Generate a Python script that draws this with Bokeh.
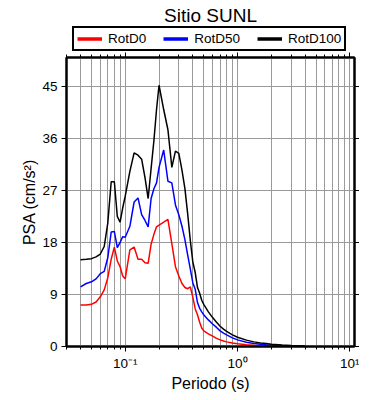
import numpy as np
from bokeh.plotting import figure
from bokeh.layouts import column, row
from bokeh.models import (Range1d, LinearAxis, FixedTicker, LogTicker,
                          Legend, LegendItem, ColumnDataSource, Label, Spacer)
from bokeh.embed import file_html
from bokeh.resources import INLINE

# ---------------- data ----------------
periods = [0.04, 0.045, 0.05, 0.055, 0.06, 0.065, 0.07, 0.075, 0.08, 0.085,
           0.09, 0.095, 0.1, 0.11, 0.12, 0.13, 0.14, 0.15, 0.16, 0.17,
           0.18, 0.19, 0.2, 0.22, 0.24, 0.26, 0.28, 0.3, 0.32, 0.34,
           0.36, 0.38, 0.4, 0.42, 0.44, 0.46, 0.48, 0.5, 0.55, 0.6,
           0.65, 0.7, 0.75, 0.8, 0.9, 1.0, 1.2, 1.4, 1.6, 1.8,
           2.0, 2.5, 3.0, 3.5, 4.0]

rotd0 = [7.2, 7.2, 7.3, 7.7, 8.6, 9.8, 11.9, 15.1, 17.2, 14.8,
         13.8, 12.2, 11.7, 16.7, 17.2, 15.1, 15.1, 14.5, 14.4, 17.7,
         19.4, 20.7, 21.0, 21.5, 22.0, 17.8, 13.8, 12.2, 10.9, 10.2,
         10.0, 10.3, 8.5, 6.5, 5.5, 4.2, 3.2, 2.7, 2.2, 1.8,
         1.4, 1.15, 0.95, 0.8, 0.6, 0.46, 0.3, 0.22, 0.17, 0.13,
         0.1, 0.07, 0.05, 0.04, 0.03]

rotd50 = [10.3, 10.9, 11.2, 11.7, 12.6, 13.0, 15.4, 19.8, 19.9, 17.1,
          18.0, 19.0, 18.9, 20.8, 25.0, 25.7, 22.8, 21.8, 20.7, 25.6,
          27.3, 28.3, 31.0, 34.0, 28.6, 28.3, 24.5, 22.8, 20.8, 18.5,
          15.8, 13.4, 11.0, 9.9, 7.6, 6.6, 6.0, 5.5, 4.6, 3.9,
          3.3, 2.7, 2.3, 2.0, 1.5, 1.15, 0.75, 0.5, 0.38, 0.3,
          0.25, 0.15, 0.1, 0.08, 0.06]

rotd100 = [15.0, 15.1, 15.2, 15.5, 16.0, 17.3, 21.4, 28.5, 28.5, 22.5,
           21.5, 24.0, 26.0, 30.3, 33.5, 33.1, 32.4, 29.2, 25.6, 30.8,
           35.6, 41.0, 45.2, 41.0, 37.5, 31.0, 33.8, 33.4, 30.5, 27.3,
           22.9, 18.3, 14.6, 12.8, 10.2, 9.2, 8.0, 7.3, 6.0, 5.0,
           4.2, 3.5, 3.0, 2.6, 2.0, 1.6, 1.1, 0.8, 0.6, 0.5,
           0.4, 0.25, 0.17, 0.12, 0.09]

series_names = ["RotD0", "RotD50", "RotD100"]
series_colors = ["#ff0000", "#0000ff", "#000000"]

ytick_vals = [0, 9, 18, 27, 36, 45]
xtick_vals = [0.1, 1, 10]
xtick_labels = ["10\u207b\u00b9", "10\u2070", "10\u00b9"]

title_text = "Sitio SUNL"
xlabel = "Periodo (s)"
ylabel = "PSA (cm/s\u00b2)"

FONT = "Liberation Sans"
GRID = "#9a9a9a"

# ---------------- main figure ----------------
p = figure(frame_width=288, frame_height=289, x_axis_type="log",
           x_range=Range1d(0.03, 11), y_range=Range1d(0, 50),
           output_backend="svg", toolbar_location=None, title=None,
           min_border_left=0, min_border_right=0,
           min_border_top=0, min_border_bottom=0)

p.background_fill_color = "white"
p.border_fill_color = "white"
p.outline_line_color = "black"
p.outline_line_width = 2
p.outline_line_alpha = 1

xa = p.xaxis[0]
xa.ticker = LogTicker(num_minor_ticks=10)
xa.major_label_overrides = dict(zip(xtick_vals, xtick_labels))
xa.axis_line_color = "black"
xa.axis_line_width = 2
xa.major_tick_out = 5
xa.major_tick_in = 0
xa.minor_tick_out = 3
xa.minor_tick_in = 0
xa.major_tick_line_color = "black"
xa.minor_tick_line_color = "black"
xa.major_label_text_font = FONT
xa.major_label_text_font_size = "13.5px"
xa.major_label_text_color = "black"
xa.major_label_standoff = 4
xa.axis_label = xlabel
xa.axis_label_text_font = FONT
xa.axis_label_text_font_size = "16px"
xa.axis_label_text_font_style = "normal"
xa.axis_label_text_color = "black"
xa.axis_label_standoff = 1

ya = p.yaxis[0]
ya.ticker = FixedTicker(ticks=ytick_vals)
ya.axis_line_color = "black"
ya.axis_line_width = 2
ya.major_tick_out = 5
ya.major_tick_in = 0
ya.minor_tick_line_color = None
ya.major_tick_line_color = "black"
ya.major_label_text_font = FONT
ya.major_label_text_font_size = "13.5px"
ya.major_label_text_color = "black"
ya.major_label_standoff = 4
ya.axis_label = ylabel
ya.axis_label_text_font = FONT
ya.axis_label_text_font_size = "16px"
ya.axis_label_text_font_style = "normal"
ya.axis_label_text_color = "black"
ya.axis_label_standoff = 1

right_ax = LinearAxis(ticker=FixedTicker(ticks=ytick_vals))
right_ax.axis_line_color = "black"
right_ax.axis_line_width = 2
right_ax.major_tick_out = 5
right_ax.major_tick_in = 0
right_ax.minor_tick_line_color = None
right_ax.major_tick_line_color = "black"
right_ax.major_label_text_color = None
right_ax.major_label_text_font_size = "1px"
right_ax.major_label_standoff = 0
p.add_layout(right_ax, "right")

top_ax = LinearAxis(ticker=LogTicker(num_minor_ticks=10))
top_ax.axis_line_color = "black"
top_ax.axis_line_width = 2
top_ax.major_tick_out = 5
top_ax.major_tick_in = 0
top_ax.minor_tick_out = 3
top_ax.minor_tick_in = 0
top_ax.major_tick_line_color = "black"
top_ax.minor_tick_line_color = "black"
top_ax.major_label_text_color = None
top_ax.major_label_text_font_size = "1px"
top_ax.major_label_standoff = 0
p.add_layout(top_ax, "above")

p.xgrid.ticker = LogTicker(num_minor_ticks=10)
p.xgrid.grid_line_color = GRID
p.xgrid.grid_line_width = 1
p.xgrid.minor_grid_line_color = GRID
p.xgrid.minor_grid_line_width = 1
p.ygrid.ticker = FixedTicker(ticks=ytick_vals)
p.ygrid.grid_line_color = GRID
p.ygrid.grid_line_width = 1

src = ColumnDataSource(dict(t=periods, r0=rotd0, r50=rotd50, r100=rotd100))
for col, color in zip(["r0", "r50", "r100"], series_colors):
    p.line("t", col, source=src, line_color=color, line_width=1.5)

# ---------------- header: title + legend ----------------
h = figure(width=390, height=52, x_range=Range1d(0, 1), y_range=Range1d(0, 1),
           x_axis_location=None, y_axis_location=None,
           output_backend="svg", toolbar_location=None, title=None,
           min_border_left=0, min_border_right=0,
           min_border_top=0, min_border_bottom=0)
h.outline_line_color = None
h.background_fill_color = "white"
h.border_fill_color = "white"
h.grid.visible = False

items = []
for name, color in zip(series_names, series_colors):
    # legend key only (a single undefined point draws nothing in the header)
    proxy = h.line(x=np.array([np.nan]), y=np.array([np.nan]),
                   line_color=color, line_width=3.5)
    items.append(LegendItem(label=name, renderers=[proxy]))

legend = Legend(items=items, orientation="horizontal", location=(72, 1),
                border_line_color="black", border_line_width=2,
                border_line_alpha=1,
                background_fill_color="white", background_fill_alpha=1,
                padding=3, spacing=17, margin=0,
                glyph_width=25, glyph_height=13,
                label_height=13, label_standoff=6,
                label_text_font=FONT, label_text_font_size="13.5px",
                label_text_color="black")
h.add_layout(legend, "center")

h.add_layout(Label(x=210, y=37, x_units="screen", y_units="screen",
                   text=title_text, text_align="center",
                   text_baseline="alphabetic", text_font=FONT,
                   text_font_size="19px", text_color="black"))

layout = column(h, row(Spacer(width=18, height=10), p))
open("out.html", "w").write(file_html(layout, INLINE))
